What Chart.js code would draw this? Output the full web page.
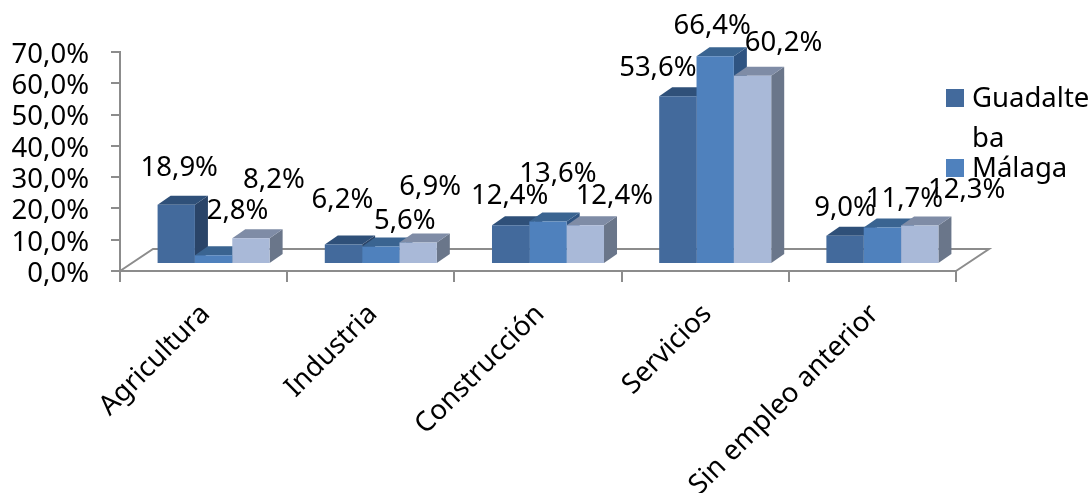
<!DOCTYPE html>
<html>
<head>
<meta charset="utf-8">
<style>
html, body { margin: 0; padding: 0; background: #fff; overflow: hidden; }
#wrap { position: relative; width: 1090px; height: 493px; }
</style>
</head>
<body>
<div id="wrap"><canvas id="chart"></canvas></div>
<script src="https://cdn.jsdelivr.net/npm/chart.js@4/dist/chart.umd.min.js"></script>
<script>
const categories = ['Agricultura', 'Industria', 'Construcción', 'Servicios', 'Sin empleo anterior'];
const guadalteba = [18.9, 6.2, 12.4, 53.6, 9.0];
const malaga = [2.8, 5.6, 13.6, 66.4, 11.7];
const tercera = [8.2, 6.9, 12.4, 60.2, 12.3];

// la tercera serie queda cortada en la leyenda original
const legendLines = [['Guadalte', 'ba'], ['Málaga']];

// colores: frente, tapa, lateral
const colors = [
    { front: '#436a9c', top: '#2f5079', side: '#2a4468' },
    { front: '#4f81bd', top: '#3a6491', side: '#2f5482' },
    { front: '#a9b9d8', top: '#7f8ca6', side: '#6a768a' }
];

// desplazamiento de cada etiqueta respecto al centro de la tapa [dx, dy]
const labelNudge = [
    [[3, -38], [-1, -45], [-1, -30], [-20, -29], [0, -29]],
    [[24, -45], [24, -26], [10, -48], [-3, -31], [22, -29]],
    [[23, -59], [12, -56], [29, -30], [31, -33], [47, -36]]
];

const FONT = '"Noto Sans", "Open Sans", sans-serif';
const FONT_SIZE = 27.5;
const DEPTH_X = 13, DEPTH_Y = 9;
const SHIFT_X = 10, SHIFT_Y = 7;
const fmt = v => v.toFixed(1).replace('.', ',') + '%';

const floor3d = {
    id: 'floor3d',
    beforeDatasetsDraw(chart) {
        const { ctx, chartArea: a } = chart;
        ctx.save();
        ctx.strokeStyle = '#8c8c8c';
        ctx.lineWidth = 2;
        ctx.beginPath();
        ctx.moveTo(a.left, a.bottom);
        ctx.lineTo(a.left + 33, a.bottom - 22);
        ctx.lineTo(a.right + 33, a.bottom - 22);
        ctx.lineTo(a.right, a.bottom);
        ctx.stroke();
        ctx.restore();

        // las barras se apoyan un poco dentro del suelo
        ctx.save();
        ctx.translate(SHIFT_X, -SHIFT_Y);

        // laterales y tapas primero, de izquierda a derecha; los frentes los pinta Chart.js encima
        chart.data.datasets.forEach((ds, i) => {
            const c = colors[i];
            chart.getDatasetMeta(i).data.forEach(bar => {
                const l = bar.x - bar.width / 2, r = bar.x + bar.width / 2;
                ctx.fillStyle = c.side;
                ctx.beginPath();
                ctx.moveTo(r, bar.y);
                ctx.lineTo(r + DEPTH_X, bar.y - DEPTH_Y);
                ctx.lineTo(r + DEPTH_X, bar.base - DEPTH_Y);
                ctx.lineTo(r, bar.base);
                ctx.closePath();
                ctx.fill();
                ctx.fillStyle = c.top;
                ctx.beginPath();
                ctx.moveTo(l, bar.y);
                ctx.lineTo(l + DEPTH_X, bar.y - DEPTH_Y);
                ctx.lineTo(r + DEPTH_X, bar.y - DEPTH_Y);
                ctx.lineTo(r, bar.y);
                ctx.closePath();
                ctx.fill();
            });
        });
    },
    afterDatasetsDraw(chart) {
        const { ctx } = chart;
        ctx.restore();

        // etiquetas de datos
        ctx.save();
        ctx.font = FONT_SIZE + 'px ' + FONT;
        ctx.fillStyle = '#000';
        ctx.textAlign = 'center';
        ctx.textBaseline = 'middle';
        chart.data.datasets.forEach((ds, i) => {
            chart.getDatasetMeta(i).data.forEach((bar, j) => {
                const [dx, dy] = labelNudge[i][j];
                ctx.fillText(fmt(ds.data[j]), bar.x + SHIFT_X + dx, bar.y - SHIFT_Y + dy + 1);
            });
        });

        // leyenda
        ctx.textAlign = 'left';
        let y = 98;
        legendLines.forEach((lines, i) => {
            ctx.fillStyle = colors[i].front;
            ctx.fillRect(946, y - 9, 18, 18);
            ctx.fillStyle = '#000';
            lines.forEach((t, k) => ctx.fillText(t, 972, y + 1 + k * 40));
            y += 70;
        });
        ctx.restore();
    }
};

new Chart(document.getElementById('chart').getContext('2d'), {
    type: 'bar',
    data: {
        labels: categories,
        datasets: [guadalteba, malaga, tercera].map((data, i) => ({
            data: data,
            backgroundColor: colors[i].front,
            borderWidth: 0,
            barPercentage: 1,
            categoryPercentage: 0.67,
            clip: false
        }))
    },
    plugins: [floor3d],
    options: {
        responsive: true,
        maintainAspectRatio: false,
        animation: false,
        layout: { padding: { top: 52, right: 134, left: 0, bottom: 0 } },
        plugins: { legend: { display: false }, tooltip: { enabled: false } },
        scales: {
            x: {
                grid: { drawOnChartArea: false, drawTicks: true, tickLength: 11, color: '#8c8c8c', lineWidth: 2 },
                border: { color: '#8c8c8c', width: 2 },
                ticks: {
                    color: '#000',
                    font: { family: FONT, size: FONT_SIZE },
                    minRotation: 45,
                    maxRotation: 45,
                    padding: 16,
                    labelOffset: 2
                },
                afterFit(scale) {
                    scale.height = 222;
                    scale.paddingLeft = 0;
                    scale.paddingRight = 0;
                }
            },
            y: {
                min: 0,
                max: 70,
                grid: { drawOnChartArea: false, drawTicks: true, tickLength: 9, color: '#8c8c8c', lineWidth: 2 },
                border: { color: '#8c8c8c', width: 2 },
                ticks: {
                    stepSize: 10,
                    autoSkip: false,
                    color: '#000',
                    padding: 22,
                    labelOffset: 3,
                    font: { family: FONT, size: FONT_SIZE },
                    callback: fmt
                },
                afterFit(scale) {
                    scale.width = 120;
                    scale.paddingTop = 0;
                    scale.paddingBottom = 0;
                }
            }
        }
    }
});
</script>
</body>
</html>
